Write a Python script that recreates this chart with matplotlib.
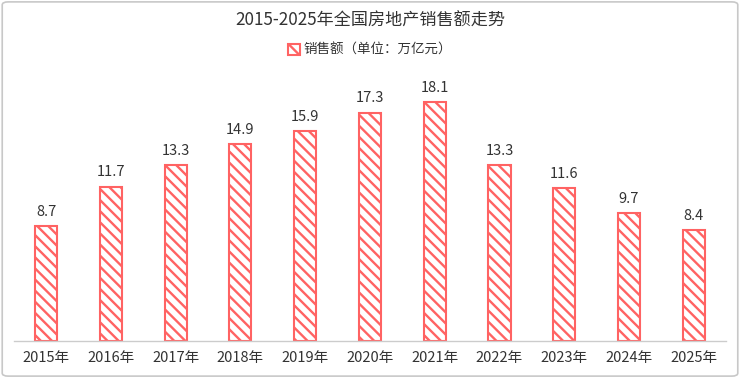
import matplotlib
matplotlib.use("Agg")
import matplotlib.pyplot as plt
from matplotlib.patches import FancyBboxPatch

plt.rcParams['font.family'] = ['Noto Sans CJK SC', 'DejaVu Sans']
plt.rcParams['hatch.linewidth'] = 1.7
plt.rcParams['hatch.color'] = '#ff6363'

years = ['2015年', '2016年', '2017年', '2018年', '2019年', '2020年',
         '2021年', '2022年', '2023年', '2024年', '2025年']
sales = [8.7, 11.7, 13.3, 14.9, 15.9, 17.3, 18.1, 13.3, 11.6, 9.7, 8.4]

red = '#ff6363'
text_col = '#333333'

fig = plt.figure(figsize=(7.4, 3.78), dpi=100)
ax = fig.add_axes([0.0184, 0.098, 0.963, 0.698])

x = range(len(years))
bars = ax.bar(x, sales, width=0.34, color='white', edgecolor=red,
              linewidth=1.5, hatch='\\\\\\', label='销售额（单位：万亿元）')

for xi, v in zip(x, sales):
    ax.text(xi, v + 0.55, f'{v}', ha='center', va='bottom',
            fontsize=10.5, color=text_col)

ax.set_xlim(-0.5, len(years) - 0.5)
ax.set_ylim(0, 20)
ax.set_xticks(list(x))
ax.set_xticklabels(years, fontsize=10.5, color=text_col)
ax.tick_params(axis='x', length=0, pad=7)
ax.set_yticks([])
for s in ['top', 'right', 'left']:
    ax.spines[s].set_visible(False)
ax.spines['bottom'].set_color('#cccccc')
ax.spines['bottom'].set_linewidth(1)

fig.text(0.5, 0.945, '2015-2025年全国房地产销售额走势', ha='center', va='center',
         fontsize=12.3, color=text_col)
fig.legend(handles=[bars], loc='center', bbox_to_anchor=(0.5, 0.868),
           frameon=False, fontsize=9.7, handlelength=0.9, handleheight=0.9,
           handletextpad=0.3, labelcolor=text_col)

border = FancyBboxPatch((0.003, 0.005), 0.994, 0.99, transform=fig.transFigure,
                        boxstyle='round,pad=0,rounding_size=0.008',
                        facecolor='none', edgecolor='#c8c8c8', linewidth=1.2)
fig.patches.append(border)

fig.savefig('out.png', dpi=100)
